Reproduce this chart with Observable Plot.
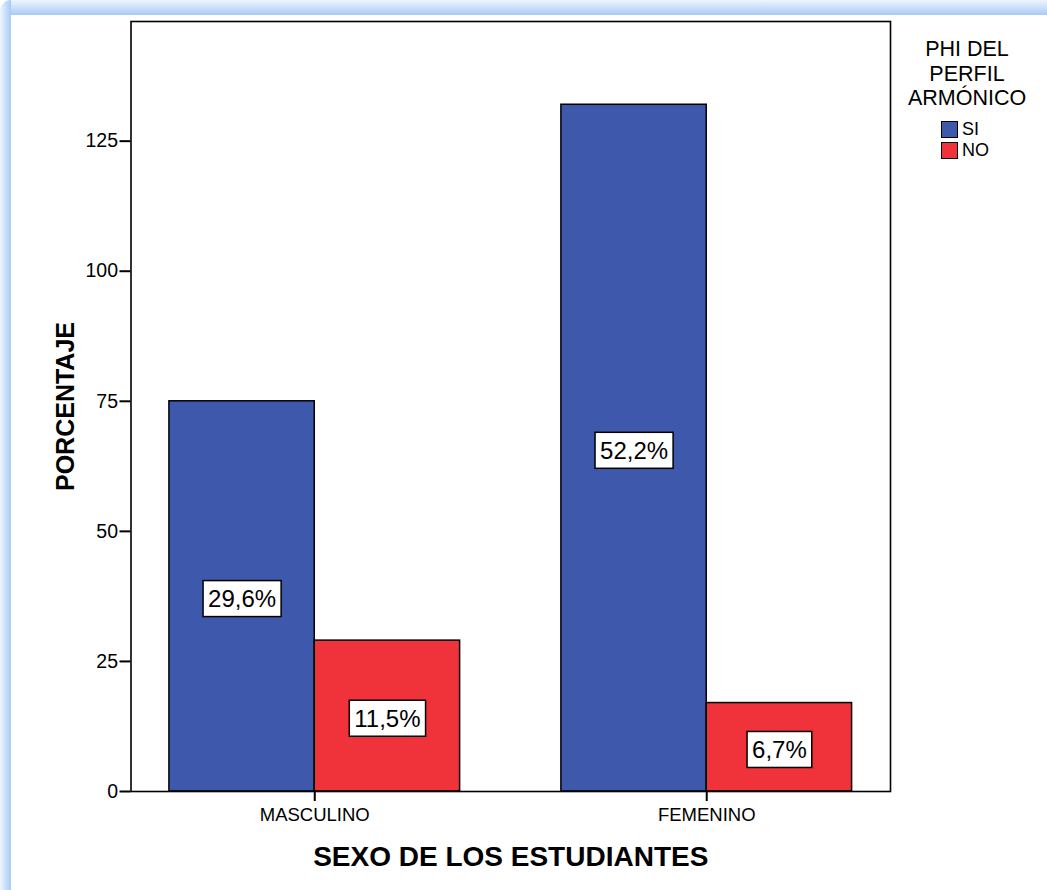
<!DOCTYPE html>
<html>
<head>
<meta charset="utf-8">
<script src="https://cdn.jsdelivr.net/npm/d3@7"></script>
<script src="https://cdn.jsdelivr.net/npm/@observablehq/plot@0.6"></script>
<style>
  html, body { margin: 0; padding: 0; background: #fff; }
  #page { position: relative; width: 1047px; height: 890px; overflow: hidden; background: #fff;
          font-family: "Liberation Sans", Arial, sans-serif; color: #000; }
  #edge-top { position: absolute; left: 0; top: 0; width: 1047px; height: 15px;
              background: linear-gradient(to bottom, #eef5fe, #a8caf4); border-top-left-radius: 14px; }
  #edge-left { position: absolute; left: 0; top: 0; width: 11px; height: 890px;
               background: linear-gradient(to right, #eef5fe, #a8caf4); border-top-left-radius: 14px; }
  #chart { position: absolute; left: 0; top: 0; }
  #legend { position: absolute; left: 890px; top: 37px; width: 154px; }
  #legend .title { text-align: center; font-size: 21.5px; line-height: 24.5px; }
  #legend .item { position: absolute; left: 51px; height: 17px; display: flex; align-items: center; font-size: 18px; }
  #legend .swatch { width: 15px; height: 15px; border: 1px solid #000; margin-right: 4px; }
</style>
</head>
<body>
<div id="page">
  <div id="edge-top"></div>
  <div id="edge-left"></div>
  <div id="chart"></div>
  <div id="legend"></div>
</div>
<script>
// Student counts by sex and by harmonic-profile phi (SI / NO)
const sexes = ["MASCULINO", "FEMENINO"];
const groups = ["SI", "NO"];
const siCounts = [75, 132];
const noCounts = [29, 17];
const yTicks = [0, 25, 50, 75, 100, 125];
const groupColors = ["#3e59ab", "#f0323b"];
const legendTitle = ["PHI DEL", "PERFIL", "ARMÓNICO"];

const total = d3.sum(siCounts) + d3.sum(noCounts);
const pct = v => (v / total * 100).toFixed(1).replace(".", ",") + "%";

const rows = [];
sexes.forEach((s, i) => {
  rows.push({sex: s, group: "SI", count: siCounts[i], label: pct(siCounts[i])});
  rows.push({sex: s, group: "NO", count: noCounts[i], label: pct(noCounts[i])});
});
const siRows = rows.filter(d => d.group === "SI");
const noRows = rows.filter(d => d.group === "NO");

// Layout
const W = 1047, H = 890;
const mL = 130.5, mR = 157, mT = 21, mB = 99;
const padIn = 0.2584, padOut = 0.098;
const step = (W - mL - mR) / (sexes.length - padIn + 2 * padOut);
const bw = step * (1 - padIn);

const color = d3.scaleOrdinal(groups, groupColors);
const font = '"Liberation Sans", Arial, sans-serif';

const chart = Plot.plot({
  width: W,
  height: H,
  marginLeft: mL,
  marginRight: mR,
  marginTop: mT,
  marginBottom: mB,
  style: {fontFamily: font, fontSize: "18px", color: "#000", background: "transparent", overflow: "visible"},
  x: {domain: sexes, paddingInner: padIn, paddingOuter: padOut, round: false, label: null},
  y: {domain: [0, 148], label: null},
  marks: [
    Plot.barY(siRows, {x: "sex", y: "count", fill: d => color(d.group), stroke: "#000", strokeWidth: 1.5, insetLeft: 0, insetRight: bw / 2}),
    Plot.barY(noRows, {x: "sex", y: "count", fill: d => color(d.group), stroke: "#000", strokeWidth: 1.5, insetLeft: bw / 2, insetRight: 0}),
    Plot.frame({stroke: "#000", strokeWidth: 1.6}),
    Plot.axisY({ticks: yTicks, tickSize: 11, tickPadding: 2, fontSize: 19.5, strokeWidth: 2, label: null}),
    Plot.axisX({tickSize: 10, tickPadding: 6, fontSize: 18.5, strokeWidth: 2, label: null}),
    Plot.text(siRows, {x: "sex", y: d => d.count / 2, text: "label", dx: -bw / 4, dy: 3, fontSize: 24, fill: "#000"}),
    Plot.text(noRows, {x: "sex", y: d => d.count / 2, text: "label", dx: bw / 4, dy: 3, fontSize: 24, fill: "#000"}),
    Plot.text(["PORCENTAJE"], {frameAnchor: "left", dx: -65, rotate: -90, textAnchor: "middle", lineAnchor: "middle", fontSize: 25, fontWeight: "bold", fill: "#000"}),
    Plot.text(["SEXO DE LOS ESTUDIANTES"], {frameAnchor: "bottom", dy: 66, textAnchor: "middle", lineAnchor: "middle", fontSize: 28, fontWeight: "bold", fill: "#000"})
  ]
});
document.getElementById("chart").appendChild(chart);

// White boxes behind the percentage labels
d3.select(chart).selectAll("text").each(function () {
  const t = this.textContent;
  if (!/%$/.test(t) || this.closest("g[aria-label*='axis']")) return;
  const b = this.getBBox();
  const px = 5, py = 4.5;
  d3.select(this.parentNode).insert("rect", () => this)
    .attr("x", b.x - px).attr("y", b.y - py)
    .attr("width", b.width + 2 * px).attr("height", b.height + 2 * py)
    .attr("transform", this.getAttribute("transform"))
    .attr("fill", "#fff").attr("stroke", "#000").attr("stroke-width", 1.5);
});

// Legend
const legend = d3.select("#legend");
legend.append("div").attr("class", "title").html(legendTitle.join("<br>"));
groups.forEach((g, i) => {
  const item = legend.append("div").attr("class", "item").style("top", (84 + i * 21) + "px");
  item.append("div").attr("class", "swatch").style("background", color(g));
  item.append("span").text(g);
});
</script>
</body>
</html>
